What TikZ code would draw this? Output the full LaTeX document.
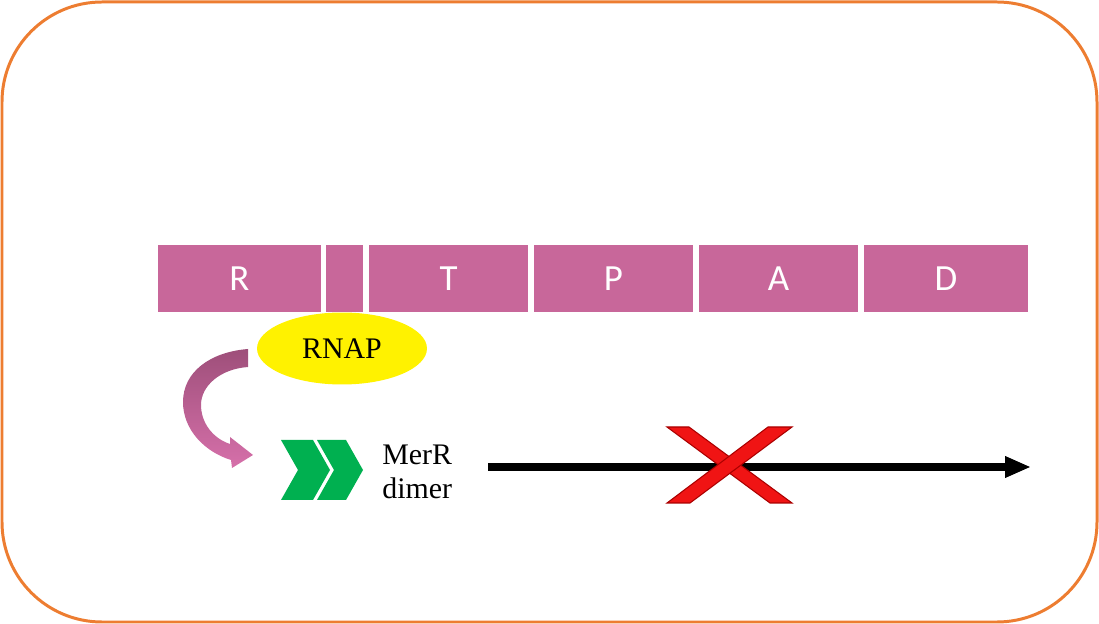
\documentclass[tikz,border=0pt]{standalone}
\usepackage{fontspec}
\setmainfont{Liberation Serif}
\newfontfamily\calfont{Carlito}
\usetikzlibrary{shapes.geometric,arrows.meta}
\definecolor{framecol}{RGB}{237,125,49}
\definecolor{genecol}{RGB}{200,103,154}
\definecolor{mercol}{RGB}{0,176,80}
\definecolor{curvetop}{RGB}{158,79,122}
\definecolor{curvebot}{RGB}{214,112,170}
\definecolor{crosscol}{RGB}{240,20,20}
\definecolor{crossedge}{RGB}{170,0,0}
\begin{document}
\begin{tikzpicture}[x=0.02cm,y=-0.02cm]
		\tikzstyle{gene}=[fill=genecol,text=white,minimum height=1.34cm,inner sep=0pt,font=\calfont\fontsize{21}{24}\selectfont]
		\tikzstyle{chev}=[fill=mercol,draw=none]

		\useasboundingbox (0,0) rectangle (1099,624);
		\draw[framecol,line width=1.7pt,rounded corners=2cm] (2,2) rectangle (1097,622);

		% operon
		\node[gene,minimum width=3.26cm](R) at (239.5,278.5){R};
		\node[gene,minimum width=0.74cm](sp) at (344.5,278.5){};
		\node[gene,minimum width=3.18cm](T) at (448.5,278.5){T};
		\node[gene,minimum width=3.18cm](P) at (613.5,278.5){P};
		\node[gene,minimum width=3.18cm](A) at (778.5,278.5){A};
		\node[gene,minimum width=3.28cm](D) at (946,278.5){D};

		\node[ellipse,fill=yellow,minimum width=3.4cm,minimum height=1.44cm,inner sep=0pt,font=\fontsize{17}{19}\selectfont](rnap) at (342,348.5){RNAP};

		% curved arrow
		\shade[top color=curvetop,bottom color=curvebot] (248,349) .. controls (210,352) and (183,372) .. (183,402)
			.. controls (183,430) and (205,452) .. (231,460) -- (232,468) -- (253,455) -- (230,437) -- (230,444)
			.. controls (212,438) and (201,422) .. (201,405) .. controls (201,386) and (220,369) .. (248,367) -- cycle;

		% MerR dimer
		\fill[chev] (281,440) -- (313,440) -- (330,470) -- (313,500) -- (281,500) -- (298,470) -- cycle;
		\fill[chev] (317,440) -- (346,440) -- (363,470) -- (346,500) -- (317,500) -- (334,470) -- cycle;
		\node[anchor=west,align=left,inner sep=0pt,font=\fontsize{17}{19}\selectfont](merr) at (382,472){MerR\\dimer};

		% blocked transcription
		\coordinate (txs) at (488,467);
		\coordinate (txe) at (1031,467);
		\draw[line width=0.17cm,-{Triangle[length=0.52cm,width=0.4cm]}] (txs) -- (txe);
		\filldraw[fill=crosscol,draw=crossedge,line width=0.6pt] (667,427) -- (689,427) -- (792,503) -- (770,503) -- cycle;
		\filldraw[fill=crosscol,draw=crossedge,line width=0.6pt] (768,427) -- (792,427) -- (690,503) -- (667,503) -- cycle;
	\end{tikzpicture}
\end{document}
